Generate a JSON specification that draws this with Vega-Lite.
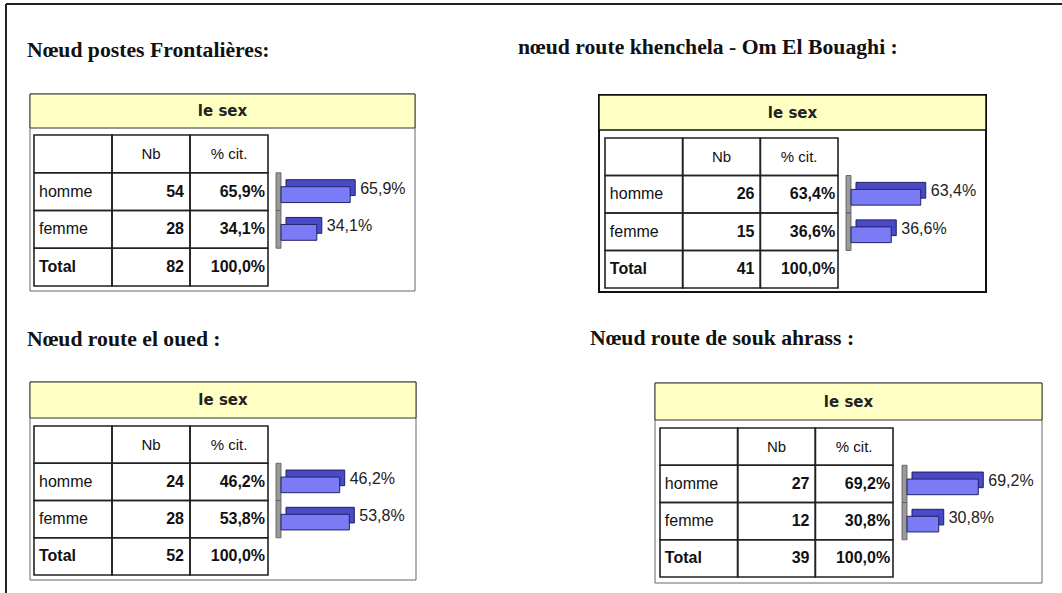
{
"$schema":"https://vega.github.io/schema/vega-lite/v6.json",
"width":1056,"height":589,
"padding":{"left":6,"top":4,"right":0,"bottom":0},
"autosize":{"type":"none"},
"background":"white",
"config":{"view":{"stroke":null},"locale":{"number":{"decimal":",","thousands":" ","grouping":[3],"currency":["","€"]}}},
"resolve":{"scale":{"x":"independent","y":"independent"}},
"layer":[
{"data":{"values":[{}]},"mark":{"type":"rule","stroke":"#222","strokeWidth":2},"encoding":{"x":{"datum":0,"type":"quantitative","axis":null,"scale":{"domain":[0,1]}}}},
{"data":{"values":[{}]},"mark":{"type":"rule","stroke":"#222","strokeWidth":2},"encoding":{"y":{"datum":0,"type":"quantitative","axis":null,"scale":{"domain":[0,1],"reverse":true}}}},

{"data":{"values":[
{"noeud":"Nœud postes Frontalières:","var":"le sex","sex":"homme","Nb":54,"pct":0.659},
{"noeud":"Nœud postes Frontalières:","var":"le sex","sex":"femme","Nb":28,"pct":0.341},
{"noeud":"Nœud postes Frontalières:","var":"le sex","sex":"Total","Nb":82,"pct":1.0}]},
"resolve":{"scale":{"x":"independent","y":"independent"}},
"layer":[
{"transform":[{"filter":"datum.sex === 'Total'"}],
"encoding":{"x":{"field":"var","type":"nominal","axis":null,"scale":{"type":"band","domain":["le sex"],"range":[24,409],"paddingInner":0,"paddingOuter":0}},
"y":{"field":"var","type":"nominal","axis":null,"scale":{"type":"band","domain":["le sex"],"range":[90,287],"paddingInner":0,"paddingOuter":0}}},
"layer":[
{"mark":{"type":"rect","fill":"#ffffff","stroke":"#666666","strokeWidth":1}},
{"mark":{"type":"text","align":"left","baseline":"alphabetic","dx":-3,"dy":-37,"font":"Liberation Serif","fontWeight":"bold","fontSize":21.7,"fill":"#111111"},
"encoding":{"text":{"field":"noeud"},
"x":{"field":"var","type":"nominal","bandPosition":0,"axis":null,"scale":{"type":"band","domain":["le sex"],"range":[24,409],"paddingInner":0,"paddingOuter":0}},
"y":{"field":"var","type":"nominal","bandPosition":0,"axis":null,"scale":{"type":"band","domain":["le sex"],"range":[90,287],"paddingInner":0,"paddingOuter":0}}}}]},
{"transform":[{"filter":"datum.sex === 'Total'"}],
"encoding":{"x":{"field":"var","type":"nominal","axis":null,"scale":{"type":"band","domain":["le sex"],"range":[24,409],"paddingInner":0,"paddingOuter":0}},
"y":{"field":"var","type":"nominal","axis":null,"scale":{"type":"band","domain":["le sex"],"range":[90,124],"paddingInner":0,"paddingOuter":0}}},
"layer":[
{"mark":{"type":"rect","fill":"#ffffc4","stroke":"#333333","strokeWidth":1}},
{"mark":{"type":"text","font":"DejaVu Sans","fontWeight":"bold","fontSize":15,"fill":"#222222"},"encoding":{"text":{"field":"var"}}}]},
{"resolve":{"scale":{"x":"independent"}},
"layer":[
{"encoding":{"y":{"field":"sex","type":"nominal","axis":null,"scale":{"type":"band","domain":["hdr","homme","femme","Total"],"range":[131,282],"paddingInner":0,"paddingOuter":0}}},
"layer":[
{"transform":[{"fold":["sex","Nb","pct"],"as":["col","v"]}],"mark":{"type":"rect","filled":false,"stroke":"#222222","strokeWidth":1.6},
"encoding":{"x":{"field":"col","type":"nominal","axis":null,"scale":{"type":"band","domain":["sex","Nb","pct"],"range":[28,262],"paddingInner":0,"paddingOuter":0}}}},
{"transform":[{"filter":"datum.sex === 'Total'"},{"fold":["sex","Nb","pct"],"as":["col","v"]}],"mark":{"type":"rect","filled":false,"stroke":"#222222","strokeWidth":1.6},
"encoding":{"x":{"field":"col","type":"nominal","axis":null},"y":{"datum":"hdr","type":"nominal","axis":null}}},
{"transform":[{"filter":"datum.sex !== 'Total'"}],"mark":{"type":"text","align":"left","dx":-34,"font":"Liberation Sans","fontSize":16,"fill":"#111111"},
"encoding":{"x":{"datum":"sex","type":"nominal","axis":null},"text":{"field":"sex"}}},
{"transform":[{"filter":"datum.sex === 'Total'"}],"mark":{"type":"text","align":"left","dx":-34,"font":"Liberation Sans","fontWeight":"bold","fontSize":16,"fill":"#111111"},
"encoding":{"x":{"datum":"sex","type":"nominal","axis":null},"text":{"field":"sex"}}},
{"mark":{"type":"text","align":"right","dx":33,"font":"Liberation Sans","fontWeight":"bold","fontSize":16,"fill":"#111111"},
"encoding":{"x":{"datum":"Nb","type":"nominal","axis":null},"text":{"field":"Nb","type":"quantitative"}}},
{"mark":{"type":"text","align":"right","dx":36,"font":"Liberation Sans","fontWeight":"bold","fontSize":16,"fill":"#111111"},
"encoding":{"x":{"datum":"pct","type":"nominal","axis":null},"text":{"field":"pct","type":"quantitative","format":".1%"}}},
{"transform":[{"filter":"datum.sex === 'Total'"}],"mark":{"type":"text","font":"Liberation Sans","fontSize":15,"fill":"#111111"},
"encoding":{"x":{"datum":"Nb","type":"nominal","axis":null},"y":{"datum":"hdr","type":"nominal","axis":null},"text":{"value":"Nb"}}},
{"transform":[{"filter":"datum.sex === 'Total'"}],"mark":{"type":"text","font":"Liberation Sans","fontSize":15,"fill":"#111111"},
"encoding":{"x":{"datum":"pct","type":"nominal","axis":null},"y":{"datum":"hdr","type":"nominal","axis":null},"text":{"value":"% cit."}}}]},
{"transform":[{"filter":"datum.sex !== 'Total'"}],
"encoding":{"y":{"field":"sex","type":"nominal","axis":null,"scale":{"type":"band","domain":["hdr","homme","femme","Total"],"range":[131,282],"paddingInner":0,"paddingOuter":0}},
"x":{"field":"pct","type":"quantitative","axis":null,"scale":{"domain":[0,1],"range":[275,380]}}},
"layer":[
{"mark":{"type":"rect","fill":"#9a9a9a","stroke":"#555555","strokeWidth":0.8,"xOffset":-5,"x2Offset":0},"encoding":{"x":{"datum":0,"type":"quantitative","axis":null},"x2":{"datum":0}}},
{"mark":{"type":"bar","height":{"band":0.42},"fill":"#4a4ac8","stroke":"#20205a","strokeWidth":1,"xOffset":5,"x2Offset":5,"yOffset":-4,"y2Offset":-4}},
{"mark":{"type":"bar","height":{"band":0.42},"fill":"#7b7bf5","stroke":"#22226a","strokeWidth":1,"yOffset":3,"y2Offset":3}},
{"mark":{"type":"text","align":"left","dx":10,"dy":-3,"font":"Liberation Sans","fontSize":16,"fill":"#222222"},"encoding":{"text":{"field":"pct","type":"quantitative","format":".1%"}}}]}]}]},

{"data":{"values":[
{"noeud":"nœud route khenchela - Om El Bouaghi :","var":"le sex","sex":"homme","Nb":26,"pct":0.634},
{"noeud":"nœud route khenchela - Om El Bouaghi :","var":"le sex","sex":"femme","Nb":15,"pct":0.366},
{"noeud":"nœud route khenchela - Om El Bouaghi :","var":"le sex","sex":"Total","Nb":41,"pct":1.0}]},
"resolve":{"scale":{"x":"independent","y":"independent"}},
"layer":[
{"transform":[{"filter":"datum.sex === 'Total'"}],
"encoding":{"x":{"field":"var","type":"nominal","axis":null,"scale":{"type":"band","domain":["le sex"],"range":[593,980],"paddingInner":0,"paddingOuter":0}},
"y":{"field":"var","type":"nominal","axis":null,"scale":{"type":"band","domain":["le sex"],"range":[91,288],"paddingInner":0,"paddingOuter":0}}},
"layer":[
{"mark":{"type":"rect","fill":"#ffffff","stroke":"#111111","strokeWidth":2}},
{"mark":{"type":"text","align":"left","baseline":"alphabetic","dx":-81,"dy":-41,"font":"Liberation Serif","fontWeight":"bold","fontSize":21.7,"fill":"#111111"},
"encoding":{"text":{"field":"noeud"},
"x":{"field":"var","type":"nominal","bandPosition":0,"axis":null,"scale":{"type":"band","domain":["le sex"],"range":[593,980],"paddingInner":0,"paddingOuter":0}},
"y":{"field":"var","type":"nominal","bandPosition":0,"axis":null,"scale":{"type":"band","domain":["le sex"],"range":[91,288],"paddingInner":0,"paddingOuter":0}}}}]},
{"transform":[{"filter":"datum.sex === 'Total'"}],
"encoding":{"x":{"field":"var","type":"nominal","axis":null,"scale":{"type":"band","domain":["le sex"],"range":[593,980],"paddingInner":0,"paddingOuter":0}},
"y":{"field":"var","type":"nominal","axis":null,"scale":{"type":"band","domain":["le sex"],"range":[91,126],"paddingInner":0,"paddingOuter":0}}},
"layer":[
{"mark":{"type":"rect","fill":"#ffffc4","stroke":"#111111","strokeWidth":1.5}},
{"mark":{"type":"text","font":"DejaVu Sans","fontWeight":"bold","fontSize":15,"fill":"#222222"},"encoding":{"text":{"field":"var"}}}]},
{"resolve":{"scale":{"x":"independent"}},
"layer":[
{"encoding":{"y":{"field":"sex","type":"nominal","axis":null,"scale":{"type":"band","domain":["hdr","homme","femme","Total"],"range":[134,284],"paddingInner":0,"paddingOuter":0}}},
"layer":[
{"transform":[{"fold":["sex","Nb","pct"],"as":["col","v"]}],"mark":{"type":"rect","filled":false,"stroke":"#222222","strokeWidth":1.6},
"encoding":{"x":{"field":"col","type":"nominal","axis":null,"scale":{"type":"band","domain":["sex","Nb","pct"],"range":[599,832],"paddingInner":0,"paddingOuter":0}}}},
{"transform":[{"filter":"datum.sex === 'Total'"},{"fold":["sex","Nb","pct"],"as":["col","v"]}],"mark":{"type":"rect","filled":false,"stroke":"#222222","strokeWidth":1.6},
"encoding":{"x":{"field":"col","type":"nominal","axis":null},"y":{"datum":"hdr","type":"nominal","axis":null}}},
{"transform":[{"filter":"datum.sex !== 'Total'"}],"mark":{"type":"text","align":"left","dx":-34,"font":"Liberation Sans","fontSize":16,"fill":"#111111"},
"encoding":{"x":{"datum":"sex","type":"nominal","axis":null},"text":{"field":"sex"}}},
{"transform":[{"filter":"datum.sex === 'Total'"}],"mark":{"type":"text","align":"left","dx":-34,"font":"Liberation Sans","fontWeight":"bold","fontSize":16,"fill":"#111111"},
"encoding":{"x":{"datum":"sex","type":"nominal","axis":null},"text":{"field":"sex"}}},
{"mark":{"type":"text","align":"right","dx":33,"font":"Liberation Sans","fontWeight":"bold","fontSize":16,"fill":"#111111"},
"encoding":{"x":{"datum":"Nb","type":"nominal","axis":null},"text":{"field":"Nb","type":"quantitative"}}},
{"mark":{"type":"text","align":"right","dx":36,"font":"Liberation Sans","fontWeight":"bold","fontSize":16,"fill":"#111111"},
"encoding":{"x":{"datum":"pct","type":"nominal","axis":null},"text":{"field":"pct","type":"quantitative","format":".1%"}}},
{"transform":[{"filter":"datum.sex === 'Total'"}],"mark":{"type":"text","font":"Liberation Sans","fontSize":15,"fill":"#111111"},
"encoding":{"x":{"datum":"Nb","type":"nominal","axis":null},"y":{"datum":"hdr","type":"nominal","axis":null},"text":{"value":"Nb"}}},
{"transform":[{"filter":"datum.sex === 'Total'"}],"mark":{"type":"text","font":"Liberation Sans","fontSize":15,"fill":"#111111"},
"encoding":{"x":{"datum":"pct","type":"nominal","axis":null},"y":{"datum":"hdr","type":"nominal","axis":null},"text":{"value":"% cit."}}}]},
{"transform":[{"filter":"datum.sex !== 'Total'"}],
"encoding":{"y":{"field":"sex","type":"nominal","axis":null,"scale":{"type":"band","domain":["hdr","homme","femme","Total"],"range":[134,284],"paddingInner":0,"paddingOuter":0}},
"x":{"field":"pct","type":"quantitative","axis":null,"scale":{"domain":[0,1],"range":[845,955]}}},
"layer":[
{"mark":{"type":"rect","fill":"#9a9a9a","stroke":"#555555","strokeWidth":0.8,"xOffset":-5,"x2Offset":0},"encoding":{"x":{"datum":0,"type":"quantitative","axis":null},"x2":{"datum":0}}},
{"mark":{"type":"bar","height":{"band":0.42},"fill":"#4a4ac8","stroke":"#20205a","strokeWidth":1,"xOffset":5,"x2Offset":5,"yOffset":-4,"y2Offset":-4}},
{"mark":{"type":"bar","height":{"band":0.42},"fill":"#7b7bf5","stroke":"#22226a","strokeWidth":1,"yOffset":3,"y2Offset":3}},
{"mark":{"type":"text","align":"left","dx":10,"dy":-3,"font":"Liberation Sans","fontSize":16,"fill":"#222222"},"encoding":{"text":{"field":"pct","type":"quantitative","format":".1%"}}}]}]}]},

{"data":{"values":[
{"noeud":"Nœud route el oued :","var":"le sex","sex":"homme","Nb":24,"pct":0.462},
{"noeud":"Nœud route el oued :","var":"le sex","sex":"femme","Nb":28,"pct":0.538},
{"noeud":"Nœud route el oued :","var":"le sex","sex":"Total","Nb":52,"pct":1.0}]},
"resolve":{"scale":{"x":"independent","y":"independent"}},
"layer":[
{"transform":[{"filter":"datum.sex === 'Total'"}],
"encoding":{"x":{"field":"var","type":"nominal","axis":null,"scale":{"type":"band","domain":["le sex"],"range":[24,410],"paddingInner":0,"paddingOuter":0}},
"y":{"field":"var","type":"nominal","axis":null,"scale":{"type":"band","domain":["le sex"],"range":[378,576],"paddingInner":0,"paddingOuter":0}}},
"layer":[
{"mark":{"type":"rect","fill":"#ffffff","stroke":"#666666","strokeWidth":1}},
{"mark":{"type":"text","align":"left","baseline":"alphabetic","dx":-3,"dy":-36,"font":"Liberation Serif","fontWeight":"bold","fontSize":21.7,"fill":"#111111"},
"encoding":{"text":{"field":"noeud"},
"x":{"field":"var","type":"nominal","bandPosition":0,"axis":null,"scale":{"type":"band","domain":["le sex"],"range":[24,410],"paddingInner":0,"paddingOuter":0}},
"y":{"field":"var","type":"nominal","bandPosition":0,"axis":null,"scale":{"type":"band","domain":["le sex"],"range":[378,576],"paddingInner":0,"paddingOuter":0}}}}]},
{"transform":[{"filter":"datum.sex === 'Total'"}],
"encoding":{"x":{"field":"var","type":"nominal","axis":null,"scale":{"type":"band","domain":["le sex"],"range":[24,410],"paddingInner":0,"paddingOuter":0}},
"y":{"field":"var","type":"nominal","axis":null,"scale":{"type":"band","domain":["le sex"],"range":[378,414],"paddingInner":0,"paddingOuter":0}}},
"layer":[
{"mark":{"type":"rect","fill":"#ffffc4","stroke":"#333333","strokeWidth":1}},
{"mark":{"type":"text","font":"DejaVu Sans","fontWeight":"bold","fontSize":15,"fill":"#222222"},"encoding":{"text":{"field":"var"}}}]},
{"resolve":{"scale":{"x":"independent"}},
"layer":[
{"encoding":{"y":{"field":"sex","type":"nominal","axis":null,"scale":{"type":"band","domain":["hdr","homme","femme","Total"],"range":[422,571],"paddingInner":0,"paddingOuter":0}}},
"layer":[
{"transform":[{"fold":["sex","Nb","pct"],"as":["col","v"]}],"mark":{"type":"rect","filled":false,"stroke":"#222222","strokeWidth":1.6},
"encoding":{"x":{"field":"col","type":"nominal","axis":null,"scale":{"type":"band","domain":["sex","Nb","pct"],"range":[28,262],"paddingInner":0,"paddingOuter":0}}}},
{"transform":[{"filter":"datum.sex === 'Total'"},{"fold":["sex","Nb","pct"],"as":["col","v"]}],"mark":{"type":"rect","filled":false,"stroke":"#222222","strokeWidth":1.6},
"encoding":{"x":{"field":"col","type":"nominal","axis":null},"y":{"datum":"hdr","type":"nominal","axis":null}}},
{"transform":[{"filter":"datum.sex !== 'Total'"}],"mark":{"type":"text","align":"left","dx":-34,"font":"Liberation Sans","fontSize":16,"fill":"#111111"},
"encoding":{"x":{"datum":"sex","type":"nominal","axis":null},"text":{"field":"sex"}}},
{"transform":[{"filter":"datum.sex === 'Total'"}],"mark":{"type":"text","align":"left","dx":-34,"font":"Liberation Sans","fontWeight":"bold","fontSize":16,"fill":"#111111"},
"encoding":{"x":{"datum":"sex","type":"nominal","axis":null},"text":{"field":"sex"}}},
{"mark":{"type":"text","align":"right","dx":33,"font":"Liberation Sans","fontWeight":"bold","fontSize":16,"fill":"#111111"},
"encoding":{"x":{"datum":"Nb","type":"nominal","axis":null},"text":{"field":"Nb","type":"quantitative"}}},
{"mark":{"type":"text","align":"right","dx":36,"font":"Liberation Sans","fontWeight":"bold","fontSize":16,"fill":"#111111"},
"encoding":{"x":{"datum":"pct","type":"nominal","axis":null},"text":{"field":"pct","type":"quantitative","format":".1%"}}},
{"transform":[{"filter":"datum.sex === 'Total'"}],"mark":{"type":"text","font":"Liberation Sans","fontSize":15,"fill":"#111111"},
"encoding":{"x":{"datum":"Nb","type":"nominal","axis":null},"y":{"datum":"hdr","type":"nominal","axis":null},"text":{"value":"Nb"}}},
{"transform":[{"filter":"datum.sex === 'Total'"}],"mark":{"type":"text","font":"Liberation Sans","fontSize":15,"fill":"#111111"},
"encoding":{"x":{"datum":"pct","type":"nominal","axis":null},"y":{"datum":"hdr","type":"nominal","axis":null},"text":{"value":"% cit."}}}]},
{"transform":[{"filter":"datum.sex !== 'Total'"}],
"encoding":{"y":{"field":"sex","type":"nominal","axis":null,"scale":{"type":"band","domain":["hdr","homme","femme","Total"],"range":[422,571],"paddingInner":0,"paddingOuter":0}},
"x":{"field":"pct","type":"quantitative","axis":null,"scale":{"domain":[0,1],"range":[275,402]}}},
"layer":[
{"mark":{"type":"rect","fill":"#9a9a9a","stroke":"#555555","strokeWidth":0.8,"xOffset":-5,"x2Offset":0},"encoding":{"x":{"datum":0,"type":"quantitative","axis":null},"x2":{"datum":0}}},
{"mark":{"type":"bar","height":{"band":0.42},"fill":"#4a4ac8","stroke":"#20205a","strokeWidth":1,"xOffset":5,"x2Offset":5,"yOffset":-4,"y2Offset":-4}},
{"mark":{"type":"bar","height":{"band":0.42},"fill":"#7b7bf5","stroke":"#22226a","strokeWidth":1,"yOffset":3,"y2Offset":3}},
{"mark":{"type":"text","align":"left","dx":10,"dy":-3,"font":"Liberation Sans","fontSize":16,"fill":"#222222"},"encoding":{"text":{"field":"pct","type":"quantitative","format":".1%"}}}]}]}]},

{"data":{"values":[
{"noeud":"Nœud route de souk ahrass :","var":"le sex","sex":"homme","Nb":27,"pct":0.692},
{"noeud":"Nœud route de souk ahrass :","var":"le sex","sex":"femme","Nb":12,"pct":0.308},
{"noeud":"Nœud route de souk ahrass :","var":"le sex","sex":"Total","Nb":39,"pct":1.0}]},
"resolve":{"scale":{"x":"independent","y":"independent"}},
"layer":[
{"transform":[{"filter":"datum.sex === 'Total'"}],
"encoding":{"x":{"field":"var","type":"nominal","axis":null,"scale":{"type":"band","domain":["le sex"],"range":[649,1036],"paddingInner":0,"paddingOuter":0}},
"y":{"field":"var","type":"nominal","axis":null,"scale":{"type":"band","domain":["le sex"],"range":[379,579],"paddingInner":0,"paddingOuter":0}}},
"layer":[
{"mark":{"type":"rect","fill":"#ffffff","stroke":"#666666","strokeWidth":1}},
{"mark":{"type":"text","align":"left","baseline":"alphabetic","dx":-65,"dy":-38,"font":"Liberation Serif","fontWeight":"bold","fontSize":21.7,"fill":"#111111"},
"encoding":{"text":{"field":"noeud"},
"x":{"field":"var","type":"nominal","bandPosition":0,"axis":null,"scale":{"type":"band","domain":["le sex"],"range":[649,1036],"paddingInner":0,"paddingOuter":0}},
"y":{"field":"var","type":"nominal","bandPosition":0,"axis":null,"scale":{"type":"band","domain":["le sex"],"range":[379,579],"paddingInner":0,"paddingOuter":0}}}}]},
{"transform":[{"filter":"datum.sex === 'Total'"}],
"encoding":{"x":{"field":"var","type":"nominal","axis":null,"scale":{"type":"band","domain":["le sex"],"range":[649,1036],"paddingInner":0,"paddingOuter":0}},
"y":{"field":"var","type":"nominal","axis":null,"scale":{"type":"band","domain":["le sex"],"range":[379,416],"paddingInner":0,"paddingOuter":0}}},
"layer":[
{"mark":{"type":"rect","fill":"#ffffc4","stroke":"#333333","strokeWidth":1}},
{"mark":{"type":"text","font":"DejaVu Sans","fontWeight":"bold","fontSize":15,"fill":"#222222"},"encoding":{"text":{"field":"var"}}}]},
{"resolve":{"scale":{"x":"independent"}},
"layer":[
{"encoding":{"y":{"field":"sex","type":"nominal","axis":null,"scale":{"type":"band","domain":["hdr","homme","femme","Total"],"range":[424,573],"paddingInner":0,"paddingOuter":0}}},
"layer":[
{"transform":[{"fold":["sex","Nb","pct"],"as":["col","v"]}],"mark":{"type":"rect","filled":false,"stroke":"#222222","strokeWidth":1.6},
"encoding":{"x":{"field":"col","type":"nominal","axis":null,"scale":{"type":"band","domain":["sex","Nb","pct"],"range":[654,887],"paddingInner":0,"paddingOuter":0}}}},
{"transform":[{"filter":"datum.sex === 'Total'"},{"fold":["sex","Nb","pct"],"as":["col","v"]}],"mark":{"type":"rect","filled":false,"stroke":"#222222","strokeWidth":1.6},
"encoding":{"x":{"field":"col","type":"nominal","axis":null},"y":{"datum":"hdr","type":"nominal","axis":null}}},
{"transform":[{"filter":"datum.sex !== 'Total'"}],"mark":{"type":"text","align":"left","dx":-34,"font":"Liberation Sans","fontSize":16,"fill":"#111111"},
"encoding":{"x":{"datum":"sex","type":"nominal","axis":null},"text":{"field":"sex"}}},
{"transform":[{"filter":"datum.sex === 'Total'"}],"mark":{"type":"text","align":"left","dx":-34,"font":"Liberation Sans","fontWeight":"bold","fontSize":16,"fill":"#111111"},
"encoding":{"x":{"datum":"sex","type":"nominal","axis":null},"text":{"field":"sex"}}},
{"mark":{"type":"text","align":"right","dx":33,"font":"Liberation Sans","fontWeight":"bold","fontSize":16,"fill":"#111111"},
"encoding":{"x":{"datum":"Nb","type":"nominal","axis":null},"text":{"field":"Nb","type":"quantitative"}}},
{"mark":{"type":"text","align":"right","dx":36,"font":"Liberation Sans","fontWeight":"bold","fontSize":16,"fill":"#111111"},
"encoding":{"x":{"datum":"pct","type":"nominal","axis":null},"text":{"field":"pct","type":"quantitative","format":".1%"}}},
{"transform":[{"filter":"datum.sex === 'Total'"}],"mark":{"type":"text","font":"Liberation Sans","fontSize":15,"fill":"#111111"},
"encoding":{"x":{"datum":"Nb","type":"nominal","axis":null},"y":{"datum":"hdr","type":"nominal","axis":null},"text":{"value":"Nb"}}},
{"transform":[{"filter":"datum.sex === 'Total'"}],"mark":{"type":"text","font":"Liberation Sans","fontSize":15,"fill":"#111111"},
"encoding":{"x":{"datum":"pct","type":"nominal","axis":null},"y":{"datum":"hdr","type":"nominal","axis":null},"text":{"value":"% cit."}}}]},
{"transform":[{"filter":"datum.sex !== 'Total'"}],
"encoding":{"y":{"field":"sex","type":"nominal","axis":null,"scale":{"type":"band","domain":["hdr","homme","femme","Total"],"range":[424,573],"paddingInner":0,"paddingOuter":0}},
"x":{"field":"pct","type":"quantitative","axis":null,"scale":{"domain":[0,1],"range":[901,1004]}}},
"layer":[
{"mark":{"type":"rect","fill":"#9a9a9a","stroke":"#555555","strokeWidth":0.8,"xOffset":-5,"x2Offset":0},"encoding":{"x":{"datum":0,"type":"quantitative","axis":null},"x2":{"datum":0}}},
{"mark":{"type":"bar","height":{"band":0.42},"fill":"#4a4ac8","stroke":"#20205a","strokeWidth":1,"xOffset":5,"x2Offset":5,"yOffset":-4,"y2Offset":-4}},
{"mark":{"type":"bar","height":{"band":0.42},"fill":"#7b7bf5","stroke":"#22226a","strokeWidth":1,"yOffset":3,"y2Offset":3}},
{"mark":{"type":"text","align":"left","dx":10,"dy":-3,"font":"Liberation Sans","fontSize":16,"fill":"#222222"},"encoding":{"text":{"field":"pct","type":"quantitative","format":".1%"}}}]}]}]}
]
}
